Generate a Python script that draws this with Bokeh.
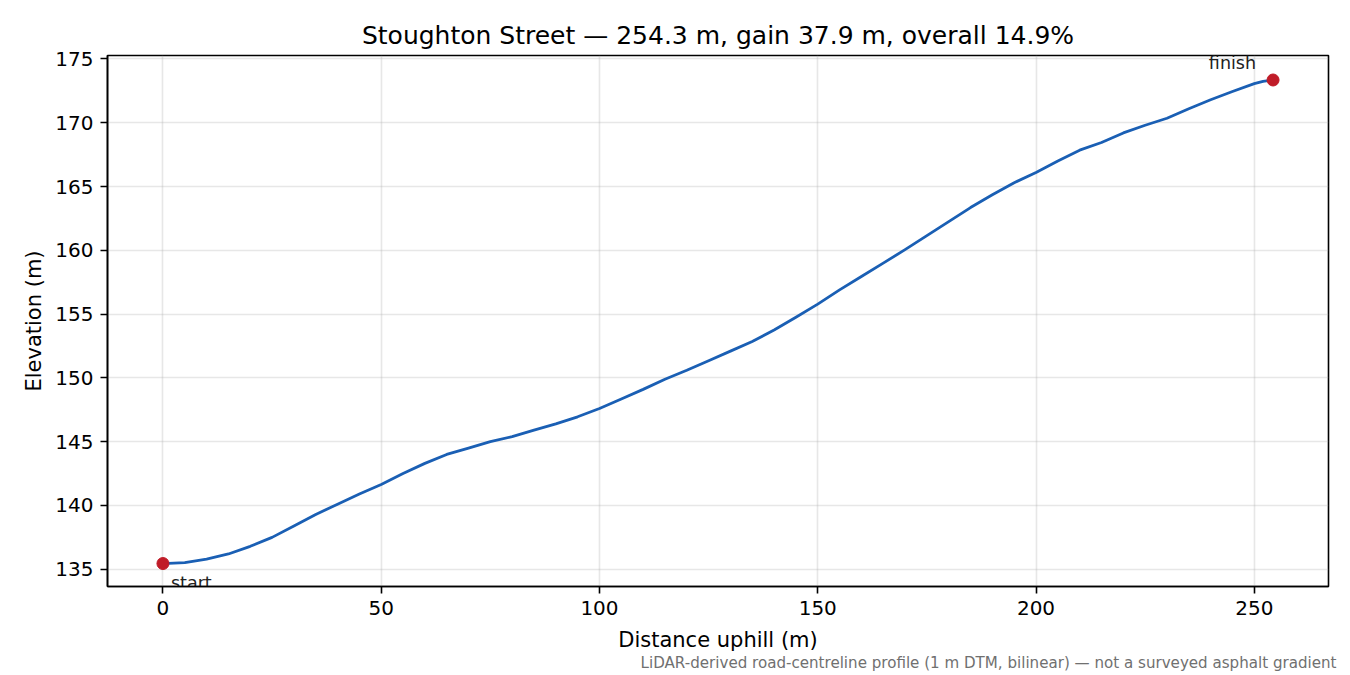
from bokeh.plotting import figure
from bokeh.models import Range1d, Title
from bokeh.core.properties import value
from bokeh.embed import file_html
from bokeh.resources import INLINE

# elevation profile (distance uphill, metres)
distance = [0, 5, 10, 15, 20, 25, 30, 35, 40, 45, 50, 55, 60, 65, 70, 75, 80,
            85, 90, 95, 100, 105, 110, 115, 120, 125, 130, 135, 140, 145, 150,
            155, 160, 165, 170, 175, 180, 185, 190, 195, 200, 205, 210, 215,
            220, 225, 230, 235, 240, 245, 250, 252, 254.3]
elevation = [135.45, 135.52, 135.80, 136.20, 136.80, 137.50, 138.40, 139.30,
             140.10, 140.90, 141.64, 142.50, 143.30, 144.00, 144.50, 145.00,
             145.40, 145.90, 146.40, 146.95, 147.60, 148.35, 149.10, 149.90,
             150.60, 151.35, 152.10, 152.85, 153.75, 154.75, 155.78, 156.90,
             157.95, 159.00, 160.05, 161.15, 162.25, 163.35, 164.35, 165.30,
             166.10, 167.00, 167.85, 168.45, 169.20, 169.80, 170.35, 171.10,
             171.80, 172.45, 173.07, 173.25, 173.35]

end_x = [distance[0], distance[-1]]
end_y = [elevation[0], elevation[-1]]
end_text = ["start", "finish"]

title = "Stoughton Street \u2014 254.3 m, gain 37.9 m, overall 14.9%"
note = "LiDAR-derived road-centreline profile (1 m DTM, bilinear) \u2014 not a surveyed asphalt gradient"

FONT = "DejaVu Sans"

p = figure(width=1350, height=675, output_backend="svg", toolbar_location=None,
           x_range=Range1d(-12.7, 267.0), y_range=Range1d(133.65, 175.27),
           min_border_left=107, min_border_right=22, min_border_top=55,
           min_border_bottom=89)

t = Title(text=title, align="center", text_font=FONT, text_font_size="25px",
          text_font_style="normal", text_color="black", standoff=12)
p.add_layout(t, "above")

p.outline_line_color = "black"
p.outline_line_width = 1.6
p.outline_line_alpha = 1.0

for ax in (p.xaxis[0], p.yaxis[0]):
    ax.axis_line_color = "black"
    ax.axis_line_width = 1.6
    ax.major_tick_line_color = "black"
    ax.major_tick_line_width = 1.6
    ax.major_tick_out = 7
    ax.major_tick_in = 0
    ax.minor_tick_line_color = None
    ax.major_label_text_font = FONT
    ax.major_label_text_font_size = "20px"
    ax.major_label_text_color = "black"
    ax.major_label_standoff = 7
    ax.axis_label_text_font = FONT
    ax.axis_label_text_font_size = "21px"
    ax.axis_label_text_font_style = "normal"
    ax.axis_label_text_color = "black"

p.xaxis.axis_label = "Distance uphill (m)"
p.yaxis.axis_label = "Elevation (m)"
p.xaxis.ticker = [0, 50, 100, 150, 200, 250]
p.yaxis.ticker = [135, 140, 145, 150, 155, 160, 165, 170, 175]
p.xaxis.axis_label_standoff = 10
p.yaxis.axis_label_standoff = 6

p.grid.grid_line_color = "#b0b0b0"
p.grid.grid_line_alpha = 0.3
p.grid.grid_line_width = 1.6

p.line(distance, elevation, line_color="#1a5fb4", line_width=2.8,
       line_join="round", line_cap="round")
p.scatter(end_x, end_y, size=12, fill_color="#c01c28", line_color="#c01c28")

p.text(x=end_x[:1], y=end_y[:1], text=end_text[:1], x_offset=8, y_offset=19,
       text_font=value(FONT), text_font_size="17.5px", text_color="#222222",
       text_align="left", text_baseline="alphabetic")
p.text(x=end_x[1:], y=end_y[1:], text=end_text[1:], x_offset=-17, y_offset=-17,
       text_font=value(FONT), text_font_size="17.5px", text_color="#222222",
       text_align="right", text_baseline="alphabetic")

foot = Title(text=note, align="right", offset=-8, standoff=-6, text_font=FONT,
             text_font_size="15.1px", text_font_style="normal",
             text_color="#707070")
p.add_layout(foot, "below")

open("out.html", "w").write(file_html(p, INLINE))
